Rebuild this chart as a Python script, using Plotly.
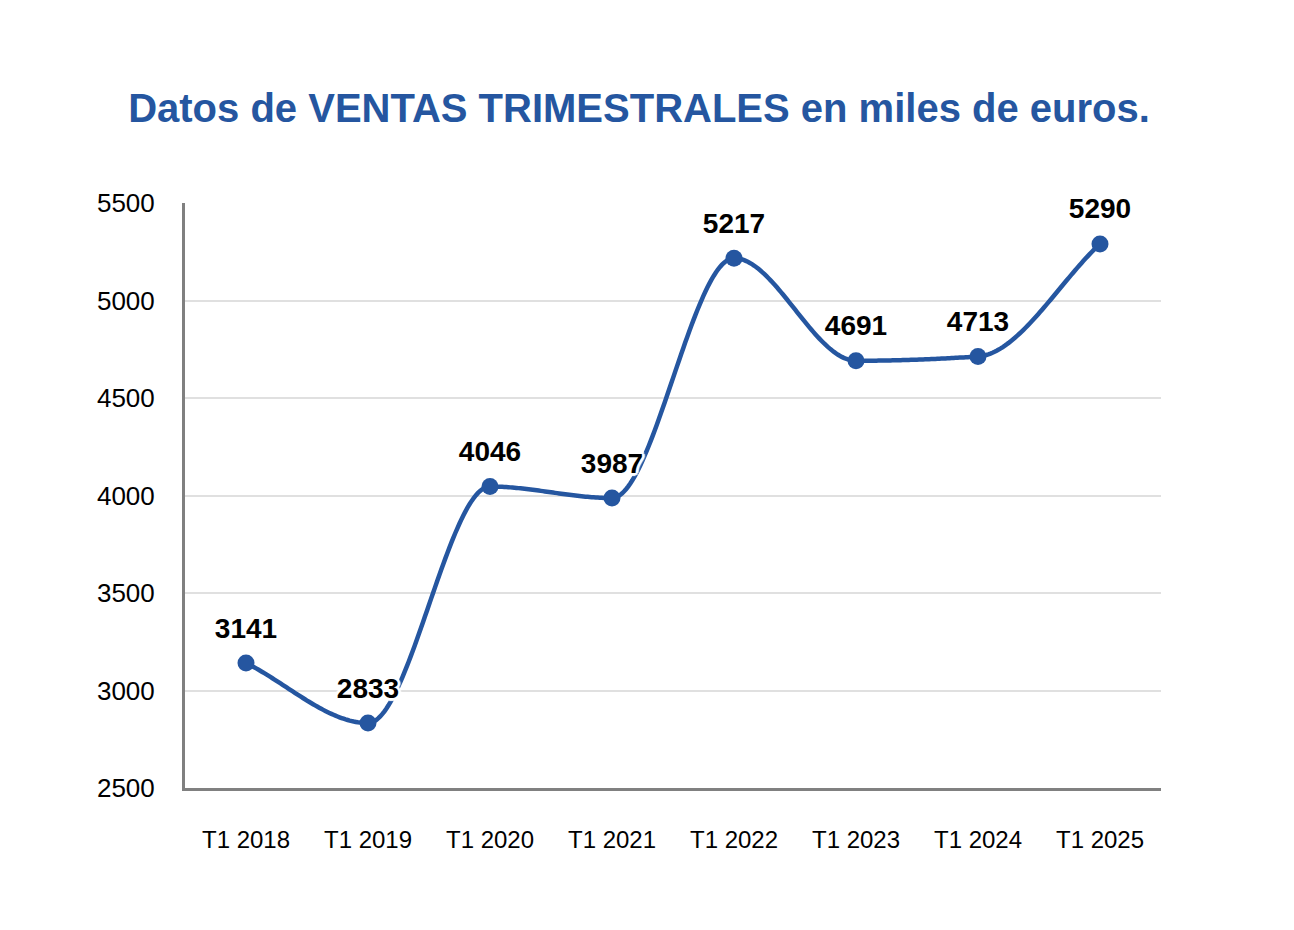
import numpy as np
import plotly.graph_objects as go

categories = ["T1 2018", "T1 2019", "T1 2020", "T1 2021", "T1 2022", "T1 2023", "T1 2024", "T1 2025"]
ventas = [3141, 2833, 4046, 3987, 5217, 4691, 4713, 5290]
y_ticks = [2500, 3000, 3500, 4000, 4500, 5000, 5500]

BLUE = "#2556a0"
FONT = "Liberation Sans, Arial, Helvetica, sans-serif"


def monotone_curve(ys, steps=60):
    """Monotone cubic (Fritsch-Carlson) rendering of the line between data points."""
    y = np.asarray(ys, dtype=float)
    n = len(y)
    d = np.diff(y)
    m = np.zeros(n)
    m[0], m[-1] = d[0], d[-1]
    for i in range(1, n - 1):
        if d[i - 1] * d[i] <= 0:
            m[i] = 0.0
        else:
            m[i] = 2.0 / (1.0 / d[i - 1] + 1.0 / d[i])
    xs_out, ys_out = [], []
    for i in range(n - 1):
        t = np.linspace(0, 1, steps, endpoint=(i == n - 2))
        h00 = 2 * t**3 - 3 * t**2 + 1
        h10 = t**3 - 2 * t**2 + t
        h01 = -2 * t**3 + 3 * t**2
        h11 = t**3 - t**2
        xs_out.extend(i + t)
        ys_out.extend(h00 * y[i] + h10 * m[i] + h01 * y[i + 1] + h11 * m[i + 1])
    return xs_out, ys_out


idx = list(range(len(categories)))
cx, cy = monotone_curve(ventas)

halo = ", ".join(f"white {dx}px {dy}px 1px" for dx, dy in
                 [(-3, 0), (3, 0), (0, -3), (0, 3), (-2, -2), (2, 2), (-2, 2), (2, -2)])

fig = go.Figure()
fig.add_trace(go.Scatter(
    x=cx, y=cy, mode="lines",
    line=dict(color=BLUE, width=4.5, simplify=False),
    hoverinfo="skip",
))
fig.add_trace(go.Scatter(
    x=idx, y=ventas,
    mode="markers",
    marker=dict(color=BLUE, size=17),
    customdata=categories,
    hovertemplate="%{customdata}: %{y}<extra></extra>",
))
fig.add_trace(go.Scatter(
    x=idx, y=ventas,
    mode="markers+text",
    marker=dict(color="rgba(0,0,0,0)", size=28),
    text=[str(v) for v in ventas],
    textposition="top center",
    textfont=dict(family=FONT, size=28, color="#000000", weight="bold", shadow=halo),
    cliponaxis=False,
    hoverinfo="skip",
))

fig.update_layout(
    width=1294, height=930,
    paper_bgcolor="white", plot_bgcolor="white",
    margin=dict(l=185, r=133, t=203, b=142),
    showlegend=False,
    title=dict(
        text="<b>Datos de VENTAS TRIMESTRALES en miles de euros.</b>",
        font=dict(family=FONT, size=40, color=BLUE),
        x=639 / 1294, xanchor="center", xref="container",
        y=1 - 108 / 930, yanchor="middle", yref="container",
    ),
    font=dict(family=FONT),
)

fig.update_xaxes(
    range=[-0.5, 7.5],
    tickvals=idx, ticktext=categories,
    showline=True, linecolor="#808080", linewidth=3,
    showgrid=False, zeroline=False,
    ticks="outside", ticklen=0, ticklabelstandoff=28,
    tickfont=dict(family=FONT, size=24, color="#000000"),
)
fig.update_yaxes(
    range=[2500, 5500],
    tickvals=y_ticks,
    showline=True, linecolor="#808080", linewidth=3,
    showgrid=True, gridcolor="#e0e0e0", gridwidth=2,
    zeroline=False,
    ticks="outside", ticklen=0, ticklabelstandoff=22,
    tickfont=dict(family=FONT, size=26, color="#000000"),
)

fig.write_html("out.html")
